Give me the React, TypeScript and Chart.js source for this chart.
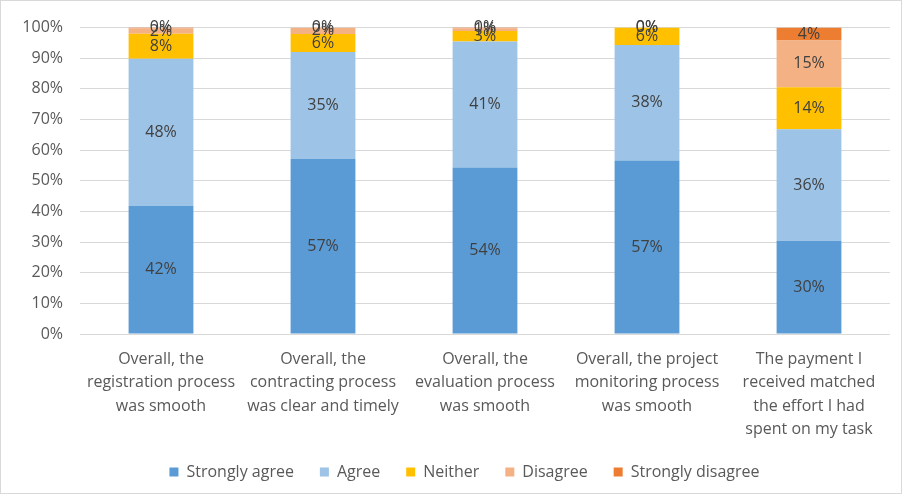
import React, { useEffect, useRef } from "react";
import { Chart, registerables } from "chart.js";

Chart.register(...registerables);

const categories: string[][] = [
  ["Overall, the", "registration process", "was smooth"],
  ["Overall, the", "contracting process", "was clear and timely"],
  ["Overall, the", "evaluation process", "was smooth"],
  ["Overall, the project", "monitoring process", "was smooth"],
  ["The payment I", "received matched", "the effort I had", "spent on my task"],
];

const stronglyAgree = [41.8, 57.1, 54.3, 56.6, 30.4];
const agree = [48.0, 34.9, 41.2, 37.7, 36.4];
const neither = [8.2, 5.9, 3.4, 5.7, 13.7];
const disagree = [1.8, 2.1, 0.9, 0.0, 15.3];
const stronglyDisagree = [0.2, 0.0, 0.2, 0.0, 4.2];

const seriesNames = ["Strongly agree", "Agree", "Neither", "Disagree", "Strongly disagree"];
const seriesColors = ["#5B9BD5", "#9DC3E6", "#FFC000", "#F4B183", "#ED7D31"];
const yTicks = [0, 10, 20, 30, 40, 50, 60, 70, 80, 90, 100];

const FONT = '"Open Sans", sans-serif';

const labelPlugin = {
  id: "barLabels",
  beforeLayout(chart: any) {
    const lg = chart.legend;
    if (lg && !lg._patchedFit) {
      const f = lg.fit;
      lg.fit = function () {
        f.call(this);
        this.height = 51;
      };
      lg._patchedFit = true;
    }
  },
  afterLayout(chart: any) {
    const lg = chart.legend;
    if (lg) {
      lg.left += 19;
      lg.right += 19;
    }
  },
  afterDatasetsDraw(chart: any) {
    const ctx = chart.ctx;
    ctx.save();
    ctx.font = `16px ${FONT}`;
    ctx.fillStyle = "#404040";
    ctx.textAlign = "center";
    ctx.textBaseline = "middle";
    chart.data.datasets.forEach((ds: any, di: number) => {
      const meta = chart.getDatasetMeta(di);
      meta.data.forEach((el: any, i: number) => {
        const v = ds.data[i];
        const y = (el.y + el.base) / 2;
        ctx.fillText(Math.round(v) + "%", el.x, y);
      });
    });
    ctx.restore();
  },
};

export default function App() {
  const ref = useRef<HTMLCanvasElement>(null);
  useEffect(() => {
    const data = [stronglyAgree, agree, neither, disagree, stronglyDisagree];
    const chart = new Chart(ref.current!, {
      type: "bar",
      data: {
        labels: categories,
        datasets: seriesNames.map((n, i) => ({
          label: n,
          data: data[i],
          backgroundColor: seriesColors[i],
          borderWidth: 0,
          categoryPercentage: 1,
          barPercentage: 0.4,
        })),
      },
      options: {
        animation: false,
        responsive: true,
        maintainAspectRatio: false,
        layout: { padding: { top: 23, right: 11, left: 0, bottom: 4 } },
        plugins: {
          legend: {
            position: "bottom",
            labels: {
              boxWidth: 9,
              boxHeight: 9,
              padding: 26,
              color: "#595959",
              font: { family: FONT, size: 16 },
            },
          },
          tooltip: { enabled: false },
        },
        scales: {
          x: {
            stacked: true,
            grid: { display: false, drawTicks: false },
            border: { display: false },
            ticks: {
              color: "#595959",
              padding: 14,
              maxRotation: 0,
              autoSkip: false,
              font: { family: FONT, size: 16, lineHeight: 1.45 },
            },
            afterFit(scale: any) {
              scale.height = 104;
            },
          },
          y: {
            stacked: true,
            min: 0,
            max: 100,
            afterBuildTicks(scale: any) {
              scale.ticks = yTicks.map((v) => ({ value: v }));
            },
            grid: { color: "#D9D9D9", drawTicks: false },
            border: { display: false },
            ticks: {
              color: "#595959",
              padding: 17,
              font: { family: FONT, size: 16 },
              callback: (v: any) => v + "%",
            },
            afterFit(scale: any) {
              scale.width = 79;
            },
          },
        },
      },
      plugins: [labelPlugin],
    });
    return () => chart.destroy();
  }, []);
  return (
    <div
      style={{
        position: "absolute",
        left: 0,
        top: 0,
        width: 900,
        height: 492,
        border: "1px solid #D9D9D9",
        background: "#fff",
      }}
    >
      <canvas ref={ref} />
    </div>
  );
}
